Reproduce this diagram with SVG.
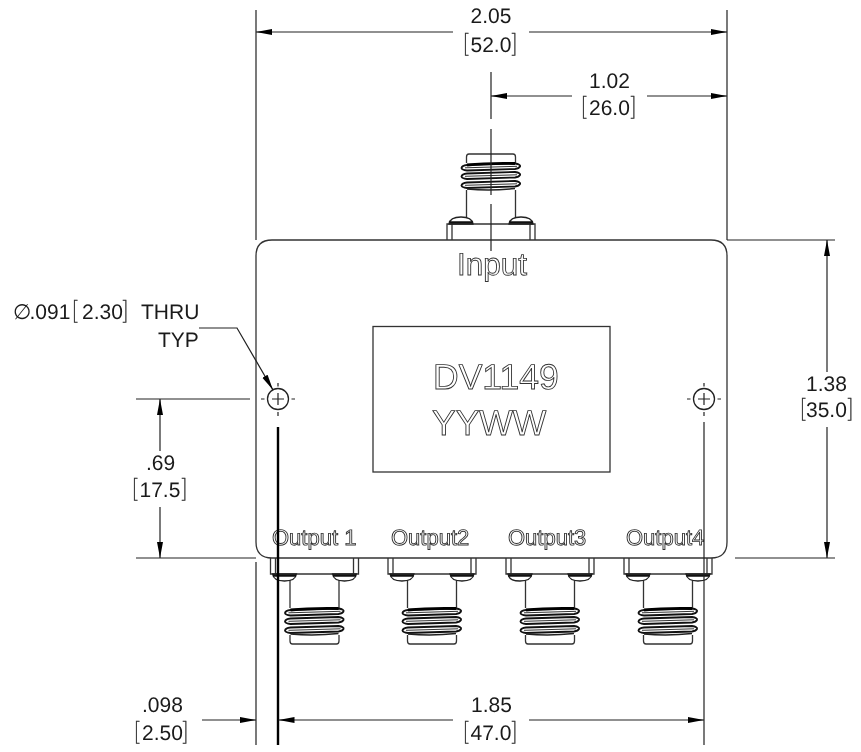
<svg xmlns="http://www.w3.org/2000/svg" width="861" height="752" viewBox="0 0 861 752">
<style>
text{font-family:"Liberation Sans",Arial,sans-serif;fill:#1a1a1a;font-size:21px;text-rendering:geometricPrecision}
.b{font-family:Roboto,"Liberation Sans",sans-serif;font-size:23.500px;font-weight:100;stroke:#222;stroke-width:.35px}
.o{fill:#fff;stroke:#333;stroke-width:.9px}
.l{stroke:#333;stroke-width:1.3;fill:none}
.dim{stroke:#222;stroke-width:1.2;fill:none}
.ar{marker-end:url(#a)}
.part{stroke:#222;stroke-width:1.3;fill:#fff}
.r{stroke:#111;stroke-width:1.800;fill:#fff}
</style>
<defs>
<filter id="g" x="0" y="0" width="861" height="752" filterUnits="userSpaceOnUse" color-interpolation-filters="sRGB"><feOffset dx="0" dy="0"/></filter>
<marker id="a" markerUnits="userSpaceOnUse" markerWidth="18" markerHeight="10" refX="16" refY="5" orient="auto">
<path d="M0 2L16 5L0 8Z" fill="#000"/>
</marker>
<g id="ridge">
<path class="r" d="M-24 1.500L24 0Q30 1 29 3Q28 5 24 5.500L-24 7Q-29 6.500-29.500 4.500Q-29 2-24 1.500Z"/>
<path d="M-26 4.300L26 2.800" stroke="#333" stroke-width="1" fill="none"/>
</g>
<g id="threads">
<path d="M-24.500 163H24.500V190H-24.500Z" fill="#fff"/>
<use href="#ridge" y="181"/>
<use href="#ridge" y="172"/>
<use href="#ridge" y="163.500"/>
<path d="M-24 165Q-5 163 24 163.500" stroke="#000" stroke-width="2.800" fill="none"/>
<path d="M-24 189Q0 191 24 188.500" stroke="#222" stroke-width="1.500" fill="none"/>
</g>
<g id="conn">
<path d="M-24.500 190V218M24.500 190V218" class="l"/>
<path d="M-24.500 163V157Q-24.500 154-22 154H22Q24.500 154 24.500 157V163" class="l"/>
<path d="M-44 240V224H44V240M-39 224V240M39 224V240" class="l"/>
<path d="M-42 224Q-41 217-30 217T-18 224Z" class="part"/>
<path d="M18 224Q19 217 30 217T42 224Z" class="part"/>
<path d="M-41.500 222.500H-18.500M18.500 222.500H41.500" stroke="#111" stroke-width="2.500"/>
</g>
<g id="hole">
<circle r="10.500" fill="#fff" stroke="#222" stroke-width="1.300"/>
<path d="M-6 0H6M0-6V6M-17 0H-13.500M13.500 0H17M0-16V-12.500M0 13V17" stroke="#222" stroke-width="1.200" fill="none"/>
</g>
</defs>
<rect width="861" height="752" fill="#fff"/>

<g id="connector-input"><use href="#conn" transform="translate(491,0)"/><use href="#threads" transform="translate(491,0)"/></g>
<g id="connector-output-1"><use href="#conn" transform="translate(314.500,798) scale(1,-1)"/><use href="#threads" transform="translate(314.500,445)"/></g>
<g id="connector-output-2"><use href="#conn" transform="translate(432,798) scale(1,-1)"/><use href="#threads" transform="translate(432,445)"/></g>
<g id="connector-output-3"><use href="#conn" transform="translate(550,798) scale(1,-1)"/><use href="#threads" transform="translate(550,445)"/></g>
<g id="connector-output-4"><use href="#conn" transform="translate(668,798) scale(1,-1)"/><use href="#threads" transform="translate(668,445)"/></g>

<g id="body">
<path d="M272 558H711Q727 558 727 542V256Q727 240 711 240H272Q256 240 256 256V542Q256 558 272 558Z" class="l"/>
<rect x="373" y="326.500" width="237" height="145.500" class="l"/>
<g filter="url(#g)">
<text class="o" x="433" y="389" style="font-size:35.500px">DV1149</text>
<text class="o" x="432" y="435" style="font-size:35.500px">YYWW</text>
<text class="o" x="457" y="275" style="font-size:31.500px">Input</text>
<text class="o" x="272" y="545" style="font-size:22px">Output 1</text>
<text class="o" x="391" y="545" style="font-size:22px">Output2</text>
<text class="o" x="508" y="545" style="font-size:22px">Output3</text>
<text class="o" x="626" y="545" style="font-size:22px">Output4</text>
</g>
<use href="#hole" x="278" y="399"/>
<use href="#hole" x="704" y="399"/>
</g>

<g id="connectors">
<path class="dim" d="M256 10V240M727 10V240M256 562V745M704 422V745M491 72V119M491 129V195M491 204V251M727 240H835M735 558H835M136 558H256M136 399H250"/>
<path d="M278 427V745" stroke="#000" stroke-width="2.400" fill="none"/>
<path class="dim ar" d="M453 32H256"/>
<path class="dim ar" d="M529 32H727"/>
<path class="dim ar" d="M572 96H491"/>
<path class="dim ar" d="M647 96H727"/>
<path class="dim ar" d="M160 451V399"/>
<path class="dim ar" d="M160 507V558"/>
<path class="dim ar" d="M827 372V240"/>
<path class="dim ar" d="M827 427V558"/>
<path class="dim ar" d="M202 720H256"/>
<path class="dim ar" d="M453 720H278.500"/>
<path class="dim ar" d="M529 720H704"/>
<path class="dim ar" d="M199 328H237L273 390"/>
</g>

<g id="labels" filter="url(#g)">
<text x="470.500" y="23">2.05</text>
<text y="52"><tspan class="b" x="463">[</tspan><tspan x="470.500">52.0</tspan><tspan class="b" x="512">]</tspan></text>
<text x="589" y="88">1.02</text>
<text y="115"><tspan class="b" x="581">[</tspan><tspan x="589">26.0</tspan><tspan class="b" x="631">]</tspan></text>
<text x="146" y="470">.69</text>
<text y="497"><tspan class="b" x="132">[</tspan><tspan x="139.500">17.5</tspan><tspan class="b" x="182">]</tspan></text>
<text x="806" y="391">1.38</text>
<text y="417"><tspan class="b" x="800">[</tspan><tspan x="806">35.0</tspan><tspan class="b" x="848">]</tspan></text>
<text x="142" y="712">.098</text>
<text y="740"><tspan class="b" x="134">[</tspan><tspan x="142">2.50</tspan><tspan class="b" x="183">]</tspan></text>
<text x="471" y="712">1.85</text>
<text y="740"><tspan class="b" x="463">[</tspan><tspan x="470.500">47.0</tspan><tspan class="b" x="512">]</tspan></text>
<text y="319"><tspan x="13" style="font-family:'DejaVu Sans',sans-serif;font-style:italic">∅</tspan><tspan x="29.500">.091</tspan><tspan class="b" x="72">[</tspan><tspan x="82">2.30</tspan><tspan class="b" x="123">]</tspan> <tspan x="141">THRU</tspan></text>
<text x="158" y="347">TYP</text>
</g>
</svg>
